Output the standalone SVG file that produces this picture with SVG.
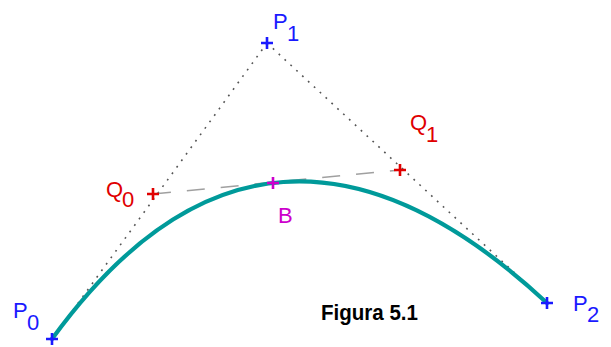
<svg xmlns="http://www.w3.org/2000/svg" width="611" height="347" viewBox="0 0 611 347">
<style>
.lbl{font-family:"Liberation Sans",Arial,sans-serif;font-size:22px}
.blue{fill:#1a1aff}.red{fill:#e00000}.mag{fill:#cc00cc}
.xb{stroke:#1a1aff;stroke-width:2.6;fill:none}
.xr{stroke:#e00000;stroke-width:2.6;fill:none}
.xm{stroke:#cc00cc;stroke-width:2.6;fill:none}
.dot{stroke:#555;stroke-width:1.6;stroke-dasharray:1.8 6.2;fill:none}
.dash{stroke:#a0a0a0;stroke-width:1.6;stroke-dasharray:18 16;fill:none}
.curve{stroke:#009a9a;stroke-width:4.2;fill:none;stroke-linecap:round}
.cap{font-family:"Liberation Sans Narrow","Liberation Sans",Arial,sans-serif;font-size:22px;font-weight:bold;fill:#000}
</style>
<rect width="611" height="347" fill="#fff"/>
<g id="connectors">
<path class="dot" d="M267 43 L52 339"/>
<path class="dot" d="M267 43 L547 303"/>
<path class="dash" d="M153 194 L400 170"/>
<path class="curve" d="M52 339 Q267 43 547 303"/>
</g>
<g id="P0"><path class="xb" d="M46 339 H58 M52 333 V345"/><text class="lbl blue" x="13" y="318">P</text><text class="lbl blue" x="27" y="330">0</text></g>
<g id="P1"><path class="xb" d="M261 43 H273 M267 37 V49"/><text class="lbl blue" x="273" y="29">P</text><text class="lbl blue" x="287" y="41">1</text></g>
<g id="P2"><path class="xb" d="M541 303 H553 M547 297 V309"/><text class="lbl blue" x="573" y="311">P</text><text class="lbl blue" x="587" y="322">2</text></g>
<g id="Q0"><path class="xr" d="M147 194 H159 M153 188 V200"/><text class="lbl red" x="106" y="197">Q</text><text class="lbl red" x="122" y="207">0</text></g>
<g id="Q1"><path class="xr" d="M394 170 H406 M400 164 V176"/><text class="lbl red" x="410" y="130">Q</text><text class="lbl red" x="426" y="142">1</text></g>
<g id="B"><path class="xm" d="M267 183 H279 M273 177 V189"/><text class="lbl mag" x="278" y="223">B</text></g>
<g id="caption"><text class="cap" x="321" y="320" textLength="97" lengthAdjust="spacingAndGlyphs">Figura 5.1</text></g>
</svg>
